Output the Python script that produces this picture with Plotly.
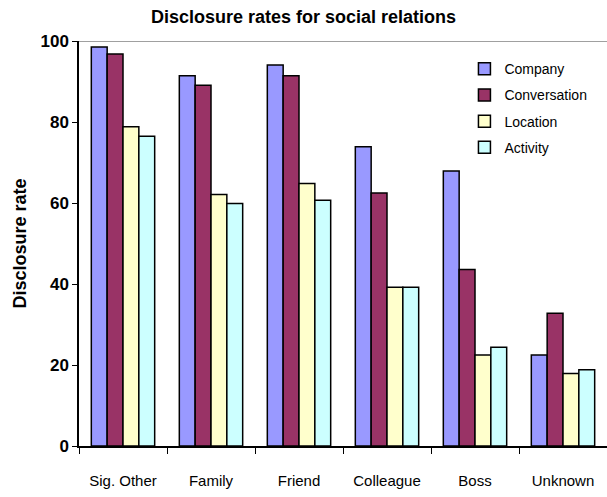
import plotly.graph_objects as go

categories = ["Sig. Other", "Family", "Friend", "Colleague", "Boss", "Unknown"]
company = [98.5, 91.4, 94.1, 73.9, 67.9, 22.5]
conversation = [96.8, 89.1, 91.4, 62.5, 43.6, 32.8]
location = [78.8, 62.1, 64.8, 39.2, 22.5, 17.9]
activity = [76.5, 59.9, 60.7, 39.2, 24.4, 18.8]

series = [
    ("Company", company, "#9999FF"),
    ("Conversation", conversation, "#993366"),
    ("Location", location, "#FFFFCC"),
    ("Activity", activity, "#CCFFFF"),
]

arial = "Liberation Sans, Arial, sans-serif"

fig = go.Figure()
for name, vals, col in series:
    fig.add_trace(go.Bar(
        name=name, x=categories, y=vals, legendgroup=name,
        marker=dict(color=col, line=dict(color="black", width=1.5)),
    ))

fig.add_shape(type="line", xref="paper", yref="y", x0=0, x1=1, y0=100, y1=100,
              line=dict(color="#808080", width=1.5), layer="below")

fig.update_layout(
    width=607, height=497,
    margin=dict(l=79, r=0, t=41, b=51, autoexpand=False),
    plot_bgcolor="white", paper_bgcolor="white",
    barmode="group", bargap=0.28, bargroupgap=0,
    title=dict(text="<b>Disclosure rates for social relations</b>",
               x=0.5, xanchor="center", y=0.966, yanchor="middle",
               font=dict(family=arial, size=18, color="black")),
    showlegend=True,
    legend=dict(x=0.73, y=0.97, xanchor="left", yanchor="top",
                font=dict(family=arial, size=14, color="black"),
                bgcolor="rgba(0,0,0,0)", tracegroupgap=5, itemwidth=30),
    xaxis=dict(showline=True, linecolor="black", linewidth=1.5,
               ticks="outside", tickson="boundaries", ticklen=6, tickcolor="black",
               tickangle=0, automargin=False,
               tickfont=dict(family=arial, size=15, color="black"),
               ticklabelstandoff=20, showgrid=False),
    yaxis=dict(range=[0, 100], dtick=20, showline=True, linecolor="black", linewidth=1.5,
               ticks="outside", ticklen=5, tickcolor="black", showgrid=False, zeroline=False,
               automargin=False,
               tickfont=dict(family=arial, size=17, color="black"),
               title=dict(text="<b>Disclosure rate</b>", standoff=9,
                          font=dict(family=arial, size=18, color="black"))),
)
fig.update_yaxes(tickprefix="<b>", ticksuffix="</b>")

fig.write_html("out.html")
